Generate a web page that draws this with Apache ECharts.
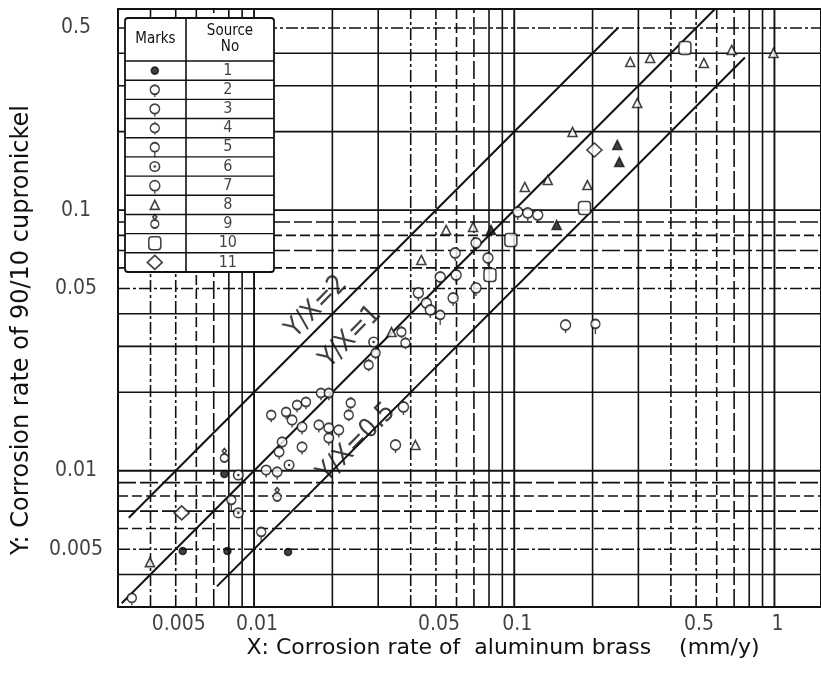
<!DOCTYPE html>
<html>
<head>
<meta charset="utf-8">
<script src="https://cdn.jsdelivr.net/npm/echarts@6/dist/echarts.min.js"></script>
<style>
  html, body { margin: 0; padding: 0; background: #fff; }
  #chart { width: 821px; height: 677px; }
</style>
</head>
<body>
<div id="chart"></div>
<script>
// ---------- axis ticks ----------
const xTickValues = [0.005, 0.01, 0.05, 0.1, 0.5, 1];
const xTickLabels = ['0.005', '0.01', '0.05', '0.1', '0.5', '1'];
const yTickValues = [0.005, 0.01, 0.05, 0.1, 0.5];
const yTickLabels = ['0.005', '0.01', '0.05', '0.1', '0.5'];

// log paper rulings: k x decade
const gridDecades = [0.001, 0.01, 0.1, 1];
const gridMultipliers = [1, 2, 3, 4, 5, 6, 7, 8, 9];

// reference lines Y/X = r
const ratioValues = [2, 1, 0.5];
const ratioLabels = ['Y/X=2', 'Y/X=1', 'Y/X=0.5'];
const ratioStartX = [0.0033, 0.0031, 0.0072];
const ratioEndX = [0.25, 0.591, 0.77];
const ratioLabelX = [0.0174, 0.0235, 0.0248];
const ratioLabelY = [0.0425, 0.0326, 0.0128];

// ---------- measurements [X, Y] (mm/y) by source ----------
const source1 = [[0.00769, 0.00971], [0.00532, 0.00492], [0.00790, 0.00492], [0.01351, 0.00488]];
const source2 = [[0.00339, 0.00325], [0.01164, 0.01636], [0.01328, 0.01680], [0.01463, 0.01787],
                 [0.01583, 0.01835], [0.01807, 0.01987], [0.01938, 0.01987]];
const source3 = [[0.01400, 0.01565], [0.01529, 0.01472], [0.01282, 0.01289], [0.01529, 0.01233],
                 [0.01248, 0.01180], [0.01113, 0.01006], [0.01227, 0.00989], [0.01775, 0.01498],
                 [0.01938, 0.01459], [0.02117, 0.01433], [0.01938, 0.01335]];
const source4 = [[0.02353, 0.01819], [0.02312, 0.01636], [0.02757, 0.02544], [0.02932, 0.02829],
                 [0.03685, 0.03405], [0.03818, 0.03091]];
const source5 = [[0.01065, 0.00582], [0.05194, 0.03958], [0.2051, 0.03655], [0.00818, 0.00772]];
const source6 = [[0.00870, 0.00963], [0.00870, 0.00689], [0.01363, 0.01052], [0.02881, 0.03119]];
const source7 = [[0.03751, 0.01756], [0.03497, 0.01255], [0.04280, 0.04809], [0.04593, 0.04401],
                 [0.04758, 0.04137], [0.05824, 0.04601], [0.05194, 0.05538], [0.05980, 0.05637],
                 [0.05928, 0.06847], [0.07131, 0.07478], [0.07927, 0.06551], [0.07131, 0.05027],
                 [0.10322, 0.09835], [0.11272, 0.09749], [0.12312, 0.09578], [0.15749, 0.03623]];
const source8 = [[0.00398, 0.00446], [0.2791, 0.3701], [0.3329, 0.3835], [0.5354, 0.3669],
                 [0.6850, 0.4115], [0.9913, 0.4008], [0.2969, 0.2577], [0.1675, 0.1994],
                 [0.1345, 0.1305], [0.1098, 0.1227], [0.1911, 0.1248], [0.06945, 0.08615],
                 [0.05475, 0.08390], [0.04395, 0.06436], [0.03376, 0.03405], [0.04169, 0.01255]];
const source8Solid = [[0.2489, 0.1778], [0.2533, 0.1530], [0.1455, 0.08768], [0.08139, 0.08390]];
const source9 = [[0.00769, 0.01119], [0.01227, 0.00793]];
const source10 = [[0.4529, 0.4189], [0.1862, 0.1019], [0.08067, 0.05637], [0.09705, 0.07679]];
const source11 = [[0.00527, 0.00689], [0.2033, 0.1701]];

const sourceNumbers = ['1', '2', '3', '4', '5', '6', '7', '8', '9', '10', '11'];

// ---------- layout / style ----------
const X_MIN = 0.003, X_MAX = 1.51, Y_MIN = 0.003, Y_MAX = 0.591;
const INK = '#111';
const FONT = '"Liberation Sans Narrow", "DejaVu Sans Condensed", "Liberation Sans", sans-serif';
const TITLE_FONT = '"DejaVu Sans", "Liberation Sans", sans-serif';

const PATHS = {
  ringStem: 'path://M10,5A5,5,0,1,1,0,5A5,5,0,1,1,10,5ZM5,10L5,13',
  ringTicks: 'path://M5,0L5,2M10,7A5,5,0,1,1,0,7A5,5,0,1,1,10,7ZM5,12L5,14',
  ringLong: 'path://M10,5A5,5,0,1,1,0,5A5,5,0,1,1,10,5ZM5,10L5,16',
  beadStack: 'path://M5,0L7,2.5L5,5L3,2.5ZM9,9.5A4,4,0,1,1,1,9.5A4,4,0,1,1,9,9.5Z'
};

// marker look for each source number
const markStyles = {
  '1':  { symbol: 'circle', size: 7, offset: [0, 0], fill: INK },
  '2':  { symbol: PATHS.ringStem, size: [9, 11.7], offset: [0, 1.35], fill: '#fff' },
  '3':  { symbol: PATHS.ringStem, size: [9.5, 12.3], offset: [0, 1.4], fill: '#fff' },
  '4':  { symbol: PATHS.ringTicks, size: [9, 12.6], offset: [0, 0], fill: '#fff' },
  '5':  { symbol: PATHS.ringLong, size: [9, 14.4], offset: [0, 2.7], fill: '#fff' },
  '6':  { symbol: 'circle', size: 9.5, offset: [0, 0], fill: '#fff', dot: true },
  '7':  { symbol: PATHS.ringStem, size: [10, 13], offset: [0, 1.5], fill: '#fff' },
  '8':  { symbol: 'triangle', size: [9, 9], offset: [0, 0], fill: '#fff' },
  '9':  { symbol: PATHS.beadStack, size: [8, 13.5], offset: [0, -2.75], fill: '#fff' },
  '10': { symbol: 'roundRect', size: [12, 13], offset: [0, 0], fill: '#fff' },
  '11': { symbol: 'diamond', size: [15, 14], offset: [0, 0], fill: '#fff' }
};

const sourceData = {
  '1': source1, '2': source2, '3': source3, '4': source4, '5': source5, '6': source6,
  '7': source7, '8': source8, '9': source9, '10': source10, '11': source11
};

const DASHES = {
  solid: 'solid',
  longDash: [18, 4],
  dash: [10, 4],
  dashDot: [12, 3, 3, 3]
};
const rulingStyleX = { 1: 'solid', 2: 'solid', 3: 'solid', 4: 'dashDot', 5: 'dashDot', 6: 'dash', 7: 'longDash', 8: 'solid', 9: 'solid' };
const rulingStyleY = { 1: 'solid', 2: 'solid', 3: 'solid', 4: 'solid', 5: 'dashDot', 6: 'dash', 7: 'longDash', 8: 'dash', 9: 'longDash' };

function rulings(lo, hi) {
  const out = [];
  gridDecades.forEach(d => gridMultipliers.forEach(k => {
    const v = +(d * k).toPrecision(3);
    if (v > lo * 1.001 && v < hi * 0.999) out.push({ v, k });
  }));
  return out;
}

const series = [];

// vertical rulings
rulings(X_MIN, X_MAX).forEach(({ v, k }) => {
  series.push({
    type: 'line', silent: true, z: 1, symbol: 'none', animation: false,
    data: [[v, Y_MIN], [v, Y_MAX]],
    lineStyle: { color: INK, width: k === 1 ? 1.9 : 1.6, type: DASHES[rulingStyleX[k]] }
  });
});
// horizontal rulings
rulings(Y_MIN, Y_MAX).forEach(({ v, k }) => {
  series.push({
    type: 'line', silent: true, z: 1, symbol: 'none', animation: false,
    data: [[X_MIN, v], [X_MAX, v]],
    lineStyle: { color: INK, width: k === 1 ? 1.9 : 1.6, type: DASHES[rulingStyleY[k]] }
  });
});

// Y/X = r reference lines
ratioValues.forEach((r, i) => {
  series.push({
    type: 'line', silent: true, z: 3, symbol: 'none', animation: false,
    data: [[ratioStartX[i], r * ratioStartX[i]], [ratioEndX[i], r * ratioEndX[i]]],
    lineStyle: { color: INK, width: 2 }
  });
});
series.push({
  type: 'scatter', silent: true, z: 4, symbolSize: 0, animation: false, clip: false,
  data: ratioLabels.map((t, i) => ({ value: [ratioLabelX[i], ratioLabelY[i]], name: t })),
  label: {
    show: true, position: 'inside', rotate: 45.5, formatter: p => p.name,
    fontFamily: FONT, fontSize: 27, color: INK
  }
});

// data marks
function markSeries(data, st, solid, xi, yi, z) {
  return {
    type: 'scatter', animation: false, clip: false, z: z,
    xAxisIndex: xi, yAxisIndex: yi,
    data: data,
    symbol: st.symbol, symbolSize: st.size, symbolOffset: st.offset,
    itemStyle: { color: solid ? INK : st.fill, borderColor: INK, borderWidth: 1.6 }
  };
}
sourceNumbers.forEach(no => {
  const st = markStyles[no];
  series.push(markSeries(sourceData[no], st, false, 0, 0, 5));
  if (st.dot) {
    series.push({
      type: 'scatter', animation: false, clip: false, z: 6, data: sourceData[no],
      symbol: 'circle', symbolSize: 2.6, itemStyle: { color: INK }
    });
  }
});
series.push(markSeries(source8Solid, markStyles['8'], true, 0, 0, 5));

// tick labels along the axes
series.push({
  type: 'scatter', silent: true, symbolSize: 0, animation: false, clip: false, z: 4,
  data: xTickValues.map((v, i) => ({ value: [v, Y_MIN], name: xTickLabels[i] })),
  label: {
    show: true, position: [3, 18], align: 'center', verticalAlign: 'middle',
    formatter: p => p.name, fontFamily: FONT, fontSize: 21, color: INK
  }
});
series.push({
  type: 'scatter', silent: true, symbolSize: 0, animation: false, clip: false, z: 4,
  data: yTickValues.map((v, i) => ({ value: [X_MIN, v], name: yTickLabels[i] })),
  label: {
    show: true, position: [-42, 0], align: 'center', verticalAlign: 'middle',
    formatter: p => p.name, fontFamily: FONT, fontSize: 21, color: INK
  }
});

// legend table contents (second, hidden coordinate system laid over the table)
sourceNumbers.forEach(no => {
  const st = markStyles[no];
  series.push(markSeries([[0.2, no]], st, no === '1', 1, 1, 20));
  if (st.dot) {
    series.push({
      type: 'scatter', animation: false, z: 21, xAxisIndex: 1, yAxisIndex: 1,
      data: [[0.2, no]], symbol: 'circle', symbolSize: 2.6, itemStyle: { color: INK }
    });
  }
});
series.push({
  type: 'scatter', silent: true, symbolSize: 0, animation: false, z: 20,
  xAxisIndex: 1, yAxisIndex: 1,
  data: sourceNumbers.map(no => [0.69, no]),
  label: { show: true, position: 'inside', formatter: p => p.value[1], fontFamily: FONT, fontSize: 16, color: INK }
});

// table frame
const TABLE = { x: 125, y: 18, w: 149, h: 254, head: 43, col: 61 };
const rowH = (TABLE.h - TABLE.head) / sourceNumbers.length;
const tableEls = [
  { type: 'rect', z: 10, shape: { x: TABLE.x, y: TABLE.y, width: TABLE.w, height: TABLE.h, r: 3 },
    style: { fill: '#fff', stroke: INK, lineWidth: 1.8 } },
  { type: 'line', z: 11, shape: { x1: TABLE.x + TABLE.col, y1: TABLE.y, x2: TABLE.x + TABLE.col, y2: TABLE.y + TABLE.h },
    style: { stroke: INK, lineWidth: 1.6 } },
  { type: 'text', z: 11, x: TABLE.x + TABLE.col / 2, y: TABLE.y + TABLE.head / 2,
    style: { text: 'Marks', fontFamily: FONT, fontSize: 15, fill: INK, align: 'center', verticalAlign: 'middle' } },
  { type: 'text', z: 11, x: TABLE.x + TABLE.col + (TABLE.w - TABLE.col) / 2, y: TABLE.y + TABLE.head / 2,
    style: { text: 'Source\nNo', fontFamily: FONT, fontSize: 15, lineHeight: 16, fill: INK, align: 'center', verticalAlign: 'middle' } }
];
for (let i = 0; i < sourceNumbers.length; i++) {
  const yy = TABLE.y + TABLE.head + i * rowH;
  tableEls.push({ type: 'line', z: 11, shape: { x1: TABLE.x, y1: yy, x2: TABLE.x + TABLE.w, y2: yy },
    style: { stroke: INK, lineWidth: 1.4 } });
}

// axis titles
const titleEls = [
  { type: 'text', z: 11, x: 503, y: 648,
    style: { text: 'X: Corrosion rate of  aluminum brass    (mm/y)', fontFamily: TITLE_FONT, fontSize: 22, fill: INK,
             align: 'center', verticalAlign: 'middle' } },
  { type: 'text', z: 11, x: 22, y: 330, rotation: Math.PI / 2,
    style: { text: 'Y: Corrosion rate of 90/10 cupronickel', fontFamily: TITLE_FONT, fontSize: 24, fill: INK,
             align: 'center', verticalAlign: 'middle' } }
];

const chart = echarts.init(document.getElementById('chart'), null, { renderer: 'canvas' });
chart.setOption({
  backgroundColor: '#fff',
  animation: false,
  grid: [
    { left: 118, right: -4, top: 9, bottom: 70, show: true, borderColor: INK, borderWidth: 2, backgroundColor: 'transparent' },
    { left: TABLE.x, top: TABLE.y + TABLE.head, width: TABLE.w, height: TABLE.h - TABLE.head, show: false }
  ],
  xAxis: [
    { type: 'log', logBase: 10, min: X_MIN, max: X_MAX, gridIndex: 0,
      axisLine: { show: true, lineStyle: { color: INK, width: 2 } },
      axisTick: { show: false }, axisLabel: { show: false }, splitLine: { show: false } },
    { type: 'value', min: 0, max: 1, gridIndex: 1, show: false }
  ],
  yAxis: [
    { type: 'log', logBase: 10, min: Y_MIN, max: Y_MAX, gridIndex: 0,
      axisLine: { show: true, lineStyle: { color: INK, width: 2 } },
      axisTick: { show: false }, axisLabel: { show: false }, splitLine: { show: false } },
    { type: 'category', data: sourceNumbers, inverse: true, gridIndex: 1, show: false }
  ],
  graphic: { elements: tableEls.concat(titleEls) },
  series: series
});
</script>
</body>
</html>
